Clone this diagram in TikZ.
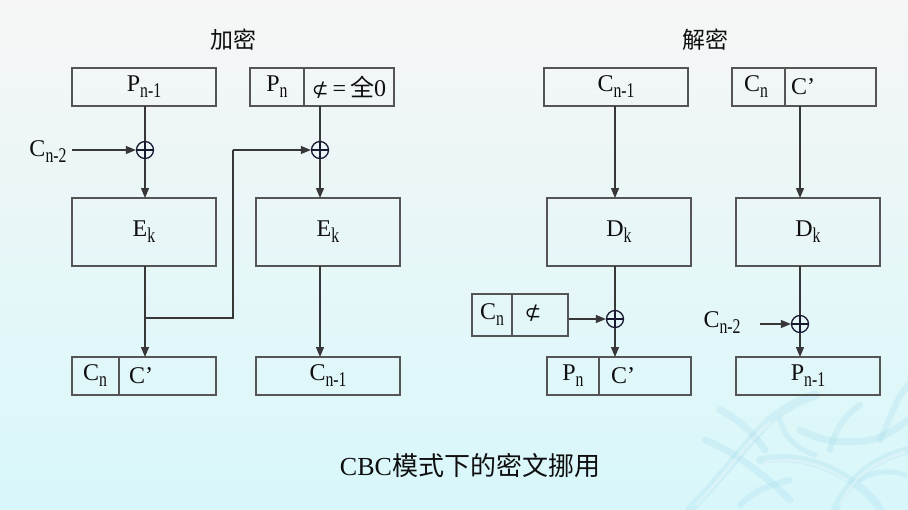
\documentclass[tikz,border=0pt]{standalone}
\usepackage{fontspec}
\setmainfont{Liberation Serif}
\newfontfamily\cjk{Noto Sans CJK SC}
\newfontfamily\symf{DejaVu Sans}
\usetikzlibrary{arrows.meta,calc}
\definecolor{bgtop}{RGB}{246,246,246}
\definecolor{bgbot}{RGB}{216,247,250}
\definecolor{linec}{RGB}{55,55,55}
\definecolor{boxc}{RGB}{85,85,85}
\definecolor{xorc}{RGB}{25,25,50}
\definecolor{txt}{RGB}{15,15,15}
\definecolor{frost}{RGB}{170,222,238}
% lowered, narrowed index text
\newcommand\lo[1]{\raisebox{-6pt}{\scalebox{0.75}[1]{\fontsize{21}{21}\selectfont #1}}}
\newcommand\notsub{{\symf\fontsize{20}{20}\selectfont ⊄}}
\begin{document}
\begin{tikzpicture}[x=1pt,y=-1pt,
  every node/.style={text=txt},
  blk/.style={draw=boxc, line width=1.4pt, minimum width=144pt, minimum height=38pt, inner sep=0pt},
  bigblk/.style={blk, minimum height=68pt},
  lbl/.style={inner sep=0pt, font=\fontsize{24}{26}\selectfont},
  ttl/.style={inner sep=0pt, font=\cjk\fontsize{23}{25}\selectfont},
  xorn/.style={circle, draw=xorc, line width=1.3pt, minimum size=17pt, inner sep=0pt,
    path picture={\draw[xorc, line width=1.1pt]
      (path picture bounding box.north) -- (path picture bounding box.south)
      (path picture bounding box.west) -- (path picture bounding box.east);}},
  conn/.style={draw=linec, line width=1.2pt},
  arr/.style={conn, -{Triangle[length=10pt,width=8pt]}},
  divider/.style={draw=boxc, line width=1.4pt},
  coral/.style={frost, line cap=round, line join=round}]

% background
\shade[top color=bgtop, bottom color=bgbot] (0,0) rectangle (908,509);
\useasboundingbox (0,0) rectangle (908,509);
% frost ornament, lower right
\begin{scope}[opacity=0.3]
  \draw[coral, line width=9pt] (690,509) .. controls (720,480) and (740,450) .. (770,420)
        .. controls (790,405) and (800,400) .. (815,395);
  \draw[coral, line width=7pt] (705,440) .. controls (730,450) and (760,470) .. (790,500);
  \draw[coral, line width=7pt] (720,410) .. controls (740,420) and (755,435) .. (765,450);
  \draw[coral, line width=8pt] (760,460) .. controls (790,455) and (820,460) .. (850,480)
        .. controls (865,490) and (875,500) .. (880,509);
  \draw[coral, line width=7pt] (800,430) .. controls (820,440) and (840,445) .. (870,440)
        .. controls (885,437) and (895,430) .. (908,420);
  \draw[coral, line width=8pt] (835,509) .. controls (850,480) and (870,460) .. (908,450);
  \draw[coral, line width=6pt] (830,450) .. controls (835,430) and (845,415) .. (860,405);
  \draw[coral, line width=6pt] (880,440) .. controls (890,420) and (895,400) .. (908,385);
  \draw[coral, line width=6pt] (740,505) .. controls (755,490) and (770,485) .. (790,480);
  \draw[coral, line width=5pt] (780,420) .. controls (785,440) and (800,450) .. (815,455);
  \draw[coral, line width=5pt] (860,480) .. controls (875,470) and (890,470) .. (905,475);
  \draw[white, line width=3pt] (696,505) .. controls (722,478) and (742,448) .. (770,422);
  \draw[white, line width=3pt] (840,505) .. controls (852,480) and (872,462) .. (905,452);
  \draw[white, line width=2.5pt] (765,462) .. controls (792,457) and (820,462) .. (848,481);
\end{scope}

% titles
\node[ttl] (tenc) at (233,40) {加密};
\node[ttl] (tdec) at (705,40) {解密};

% ---------------- encryption ----------------
\node[blk] (pa) at (144,87) {};
\node[lbl] at (pa) {P\lo{n-1}};
\node[blk] (pb) at (322,87) {};
\draw[divider] (304,68) -- (304,106);
\node[lbl] at (277,87) {P\lo{n}};
\node[lbl] at (349,87) {\notsub\,=\,{\cjk 全}0};

\node[xorn] (x1) at (145,150) {};
\node[xorn] (x2) at (320,150) {};
\node[lbl] (cm2a) at (48,152) {C\lo{n-2}};
\coordinate (cm2aend) at (72,150);

\node[bigblk] (e1) at (144,232) {};
\node[lbl] at (e1) {E\lo{k}};
\node[bigblk] (e2) at (328,232) {};
\node[lbl] at (e2) {E\lo{k}};

\node[blk] (ca) at (144,376) {};
\draw[divider] (119,357) -- (119,395);
\node[lbl] at (95,376) {C\lo{n}};
\node[lbl, anchor=west] at (129,376) {C’};
\node[blk] (cb) at (328,376) {};
\node[lbl] at (cb) {C\lo{n-1}};

\draw[conn] (145,106) -- (x1.north);
\draw[arr] (cm2aend) -- (x1.west);
\draw[arr] (x1.south) -- (145,198);
\draw[conn] (320,106) -- (x2.north);
\draw[arr] (x2.south) -- (320,198);
\coordinate (br) at (145,318);
\coordinate (turn) at (233,150);
\draw[arr] (145,266) -- (145,357);
\draw[conn] (br) -| (turn);
\draw[arr] (turn) -- (x2.west);
\draw[arr] (320,266) -- (320,357);

% ---------------- decryption ----------------
\node[blk] (ca1) at (616,87) {};
\node[lbl] at (ca1) {C\lo{n-1}};
\node[blk] (cb1) at (804,87) {};
\draw[divider] (785,68) -- (785,106);
\node[lbl] at (756,87) {C\lo{n}};
\node[lbl, anchor=west] at (791,87) {C’};

\node[bigblk] (d1) at (619,232) {};
\node[lbl] at (d1) {D\lo{k}};
\node[bigblk] (d2) at (808,232) {};
\node[lbl] at (d2) {D\lo{k}};

\node[blk, minimum width=96pt, minimum height=42pt] (cz) at (520,315) {};
\draw[divider] (512,294) -- (512,336);
\node[lbl] at (492,315) {C\lo{n}};
\node[lbl] at (533,313) {\notsub};

\node[xorn] (x3) at (615,319) {};
\node[xorn] (x4) at (800,324) {};
\node[lbl] (cm2b) at (722,323) {C\lo{n-2}};
\coordinate (cm2bend) at (760,324);

\node[blk] (pc) at (619,376) {};
\draw[divider] (599,357) -- (599,395);
\node[lbl] at (573,376) {P\lo{n}};
\node[lbl, anchor=west] at (611,376) {C’};
\node[blk] (pd) at (808,376) {};
\node[lbl] at (pd) {P\lo{n-1}};

\draw[arr] (615,106) -- (615,198);
\draw[arr] (800,106) -- (800,198);
\draw[conn] (615,266) -- (x3.north);
\draw[arr] (x3.south) -- (615,357);
\draw[arr] (cz.east |- x3) -- (x3.west);
\draw[conn] (800,266) -- (x4.north);
\draw[arr] (x4.south) -- (800,357);
\draw[arr] (cm2bend) -- (x4.west);

% caption
\node[inner sep=0pt, font=\fontsize{26}{28}\selectfont] (cap) at (470,466) {CBC{\cjk 模式下的密文挪用}};
\end{tikzpicture}
\end{document}
